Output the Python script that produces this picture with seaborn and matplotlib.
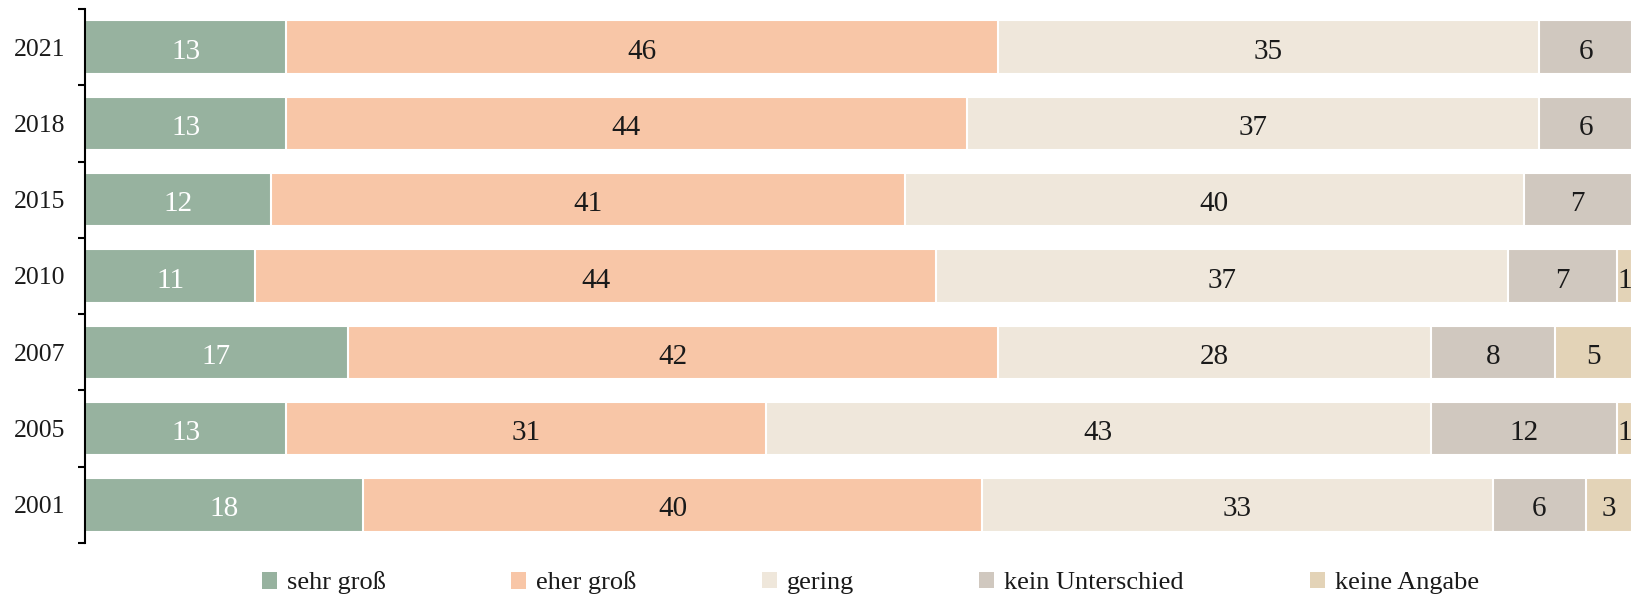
import matplotlib
matplotlib.use("Agg")
import matplotlib.pyplot as plt
import seaborn as sns
import numpy as np
import pandas as pd
from matplotlib.patches import Patch

years = ["2021", "2018", "2015", "2010", "2007", "2005", "2001"]
categories = ["sehr groß", "eher groß", "gering", "kein Unterschied", "keine Angabe"]
sehr_gross = [13, 13, 12, 11, 17, 13, 18]
eher_gross = [46, 44, 41, 44, 42, 31, 40]
gering = [35, 37, 40, 37, 28, 43, 33]
kein_unterschied = [6, 6, 7, 7, 8, 12, 6]
keine_angabe = [0, 0, 0, 1, 5, 1, 3]

colors = ["#97B29F", "#F8C6A7", "#EFE7DB", "#D0C8BF", "#E3D3B7"]
text_colors = ["white", "#1a1a1a", "#1a1a1a", "#1a1a1a", "#1a1a1a"]

sns.set_style("white")
plt.rcParams["font.family"] = ["Liberation Serif", "DejaVu Serif"]

series = [sehr_gross, eher_gross, gering, kein_unterschied, keine_angabe]
vals = np.array(series, dtype=float)
cum = np.cumsum(vals, axis=0)

fig = plt.figure(figsize=(16.32, 5.94), dpi=100)
ax = fig.add_axes([85 / 1632, 1 - 543 / 594, 1 - 85 / 1632, (543 - 9) / 594])

# draw cumulative bars from last to first so they stack visually
for i in range(len(categories) - 1, -1, -1):
    df = pd.DataFrame({"year": years, "value": cum[i]})
    sns.barplot(data=df, x="value", y="year", orient="h", color=colors[i],
                width=0.7, edgecolor="white", linewidth=1.5, ax=ax,
                saturation=1, order=years)

# labels
for i in range(len(categories)):
    for j, y in enumerate(years):
        v = vals[i, j]
        if v <= 0:
            continue
        center = cum[i, j] - v / 2
        ax.text(center, j + 0.02, f"{int(v)}", ha="center", va="center_baseline",
                fontsize=21, color=text_colors[i], clip_on=False)

ax.set_xlim(0, 100)
ax.set_ylim(6.5, -0.5)
ax.set_xlabel("")
ax.set_ylabel("")
ax.set_xticks([])
for s in ["top", "right", "bottom"]:
    ax.spines[s].set_visible(False)
ax.spines["left"].set_linewidth(1.5)
ax.spines["left"].set_color("black")
ax.set_yticks(range(len(years)))
ax.set_yticklabels(years, fontsize=18.5, color="#1a1a1a")
ax.set_yticks(np.arange(-0.5, len(years), 1.0), minor=True)
ax.tick_params(axis="y", which="major", left=True, length=0, pad=14)
ax.tick_params(axis="y", which="minor", left=True, length=5, width=1.5,
               direction="out", color="black")

# legend entries, placed individually
leg_x = [262, 511, 762, 979, 1310]
for k, cat in enumerate(categories):
    leg = fig.legend(handles=[Patch(facecolor=colors[k], edgecolor="none")],
                     labels=[cat], loc="center left",
                     bbox_to_anchor=(leg_x[k] / 1632, 1 - 583 / 594),
                     frameon=False, fontsize=19, handlelength=0.55,
                     handleheight=0.6, handletextpad=0.4, borderpad=0,
                     borderaxespad=0, labelcolor="#1a1a1a")

fig.savefig("out.png", dpi=100)
